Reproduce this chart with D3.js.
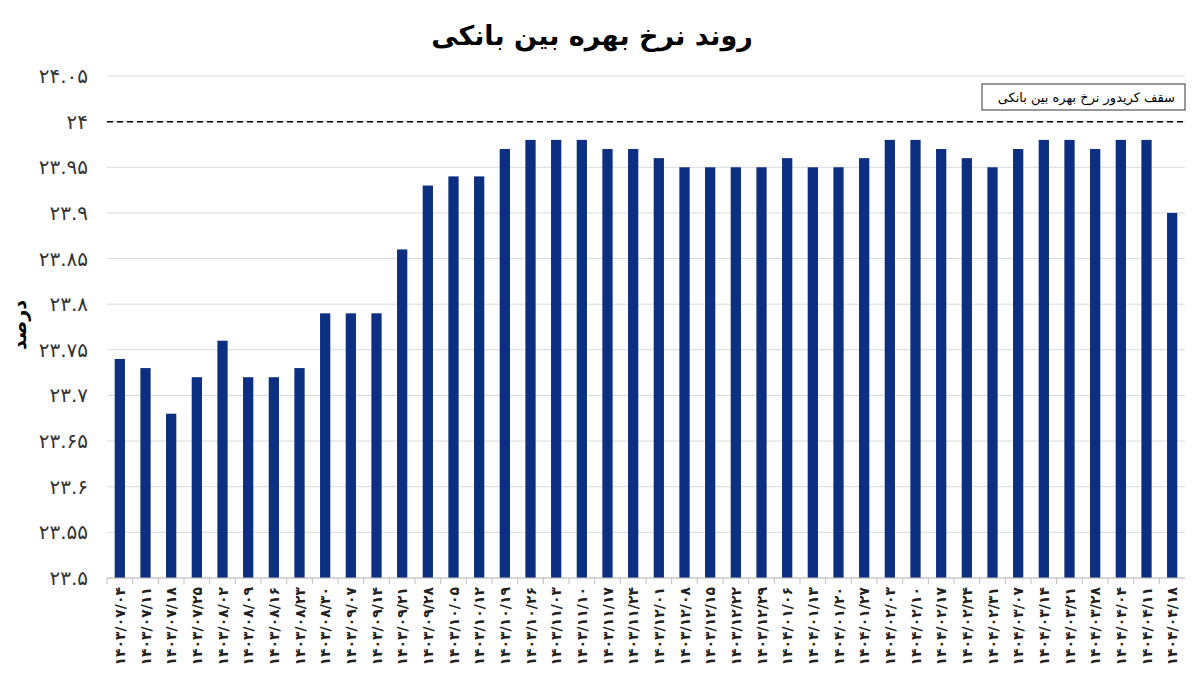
<!DOCTYPE html><html><head><meta charset="utf-8"><script src="https://cdn.jsdelivr.net/npm/d3@7"></script>
<style>body{margin:0;background:#fff}svg{font-family:"DejaVu Sans",sans-serif}</style></head><body><svg id="c" width="1200" height="682"></svg><script>
const dates=["1403/07/04","1403/07/11","1403/07/18","1403/07/25","1403/08/02","1403/08/09","1403/08/16","1403/08/23","1403/08/30","1403/09/07","1403/09/14","1403/09/21","1403/09/28","1403/10/05","1403/10/12","1403/10/19","1403/10/26","1403/11/03","1403/11/10","1403/11/17","1403/11/24","1403/12/01","1403/12/08","1403/12/15","1403/12/22","1403/12/29","1404/01/06","1404/01/13","1404/01/20","1404/01/27","1404/02/03","1404/02/10","1404/02/17","1404/02/24","1404/02/31","1404/03/07","1404/03/14","1404/03/21","1404/03/28","1404/04/04","1404/04/11","1404/04/18"];
const rates=[23.74,23.73,23.68,23.72,23.76,23.72,23.72,23.73,23.79,23.79,23.79,23.86,23.93,23.94,23.94,23.97,23.98,23.98,23.98,23.97,23.97,23.96,23.95,23.95,23.95,23.95,23.96,23.95,23.95,23.96,23.98,23.98,23.97,23.96,23.95,23.97,23.98,23.98,23.97,23.98,23.98,23.90];
const yTicks=[23.5,23.55,23.6,23.65,23.7,23.75,23.8,23.85,23.9,23.95,24,24.05];
const ceiling=24;
const fa=s=>String(s).replace(/\d/g,d=>"۰۱۲۳۴۵۶۷۸۹"[d]);
const svg=d3.select("#c");
const L=107,R=1185,T=76,B=578;
const x=d3.scaleBand().domain(dates).range([L,R]).paddingInner(0.6).paddingOuter(0.3);
const y=d3.scaleLinear().domain([23.5,24.05]).range([B,T]);
svg.append("g").selectAll("line").data(yTicks).join("line").attr("x1",L).attr("x2",R).attr("y1",d=>y(d)).attr("y2",d=>y(d)).attr("stroke","#d9d9d9");
svg.append("g").selectAll("text").data(yTicks).join("text").attr("x",88).attr("y",d=>y(d)+7).attr("text-anchor","end").attr("font-size",20).attr("fill","#333").text(d=>fa(d));
svg.append("g").selectAll("rect").data(rates).join("rect").attr("x",(d,i)=>x(dates[i])).attr("width",x.bandwidth()).attr("y",d=>y(d)).attr("height",d=>B-y(d)).attr("fill","#0d2f82");
svg.append("line").attr("x1",L).attr("x2",R).attr("y1",B).attr("y2",B).attr("stroke","#bfbfbf");
svg.append("g").selectAll("line").data(dates).join("line").attr("x1",d=>x(d)-x.step()*x.paddingInner()/2).attr("x2",d=>x(d)-x.step()*x.paddingInner()/2).attr("y1",B).attr("y2",B+6).attr("stroke","#bfbfbf");
svg.append("g").selectAll("text").data(dates).join("text").attr("transform",d=>`translate(${x(d)+x.bandwidth()/2+5},${B+9}) rotate(-90)`).attr("text-anchor","end").attr("font-size",14).attr("font-weight","bold").attr("fill","#222").text(d=>fa(d));
svg.append("line").attr("x1",L).attr("x2",R).attr("y1",y(ceiling)).attr("y2",y(ceiling)).attr("stroke","#000").attr("stroke-width",1.5).attr("stroke-dasharray","6,4");
svg.append("rect").attr("x",982).attr("y",84).attr("width",203).attr("height",26).attr("fill","#fff").attr("stroke","#333");
svg.append("text").attr("x",1175).attr("y",102).attr("text-anchor","start").attr("direction","rtl").attr("font-size",13).text("سقف کریدور نرخ بهره بین بانکی");
svg.append("text").attr("x",592).attr("y",45).attr("text-anchor","middle").attr("font-size",27).attr("font-weight","bold").text("روند نرخ بهره بین بانکی");
svg.append("text").attr("transform","translate(26,325) rotate(-90)").attr("text-anchor","middle").attr("font-size",19).attr("font-weight","bold").text("درصد");
</script></body></html>
